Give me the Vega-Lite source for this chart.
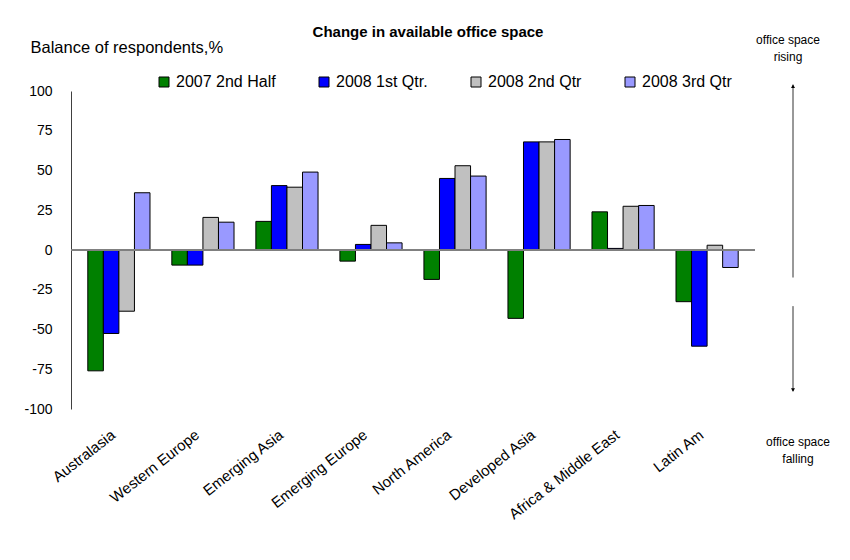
{
  "$schema": "https://vega.github.io/schema/vega-lite/v6.json",
  "width": 684,
  "height": 318,
  "autosize": {"type": "none"},
  "padding": {"left": 71, "top": 91, "right": 95, "bottom": 151},
  "background": "white",
  "title": {"text": "Change in available office space", "fontSize": 15, "fontWeight": "bold", "font": "Liberation Sans", "color": "black", "anchor": "middle", "dx": 15, "offset": -6},
  "config": {"view": {"stroke": null}, "font": "Liberation Sans", "axisY": {"labelOverlap": false}},
  "resolve": {"axis": {"y": "independent"}},
  "datasets": {
    "bars": [
      {"region": "Australasia", "series": "2007 2nd Half", "value": -76},
      {"region": "Australasia", "series": "2008 1st Qtr.", "value": -52.5},
      {"region": "Australasia", "series": "2008 2nd Qtr", "value": -38.5},
      {"region": "Australasia", "series": "2008 3rd Qtr", "value": 36},
      {"region": "Western Europe", "series": "2007 2nd Half", "value": -9.5},
      {"region": "Western Europe", "series": "2008 1st Qtr.", "value": -9.5},
      {"region": "Western Europe", "series": "2008 2nd Qtr", "value": 20.5},
      {"region": "Western Europe", "series": "2008 3rd Qtr", "value": 17.5},
      {"region": "Emerging Asia", "series": "2007 2nd Half", "value": 18},
      {"region": "Emerging Asia", "series": "2008 1st Qtr.", "value": 40.5},
      {"region": "Emerging Asia", "series": "2008 2nd Qtr", "value": 39.5},
      {"region": "Emerging Asia", "series": "2008 3rd Qtr", "value": 49},
      {"region": "Emerging Europe", "series": "2007 2nd Half", "value": -7},
      {"region": "Emerging Europe", "series": "2008 1st Qtr.", "value": 3.5},
      {"region": "Emerging Europe", "series": "2008 2nd Qtr", "value": 15.5},
      {"region": "Emerging Europe", "series": "2008 3rd Qtr", "value": 4.5},
      {"region": "North America", "series": "2007 2nd Half", "value": -18.5},
      {"region": "North America", "series": "2008 1st Qtr.", "value": 45},
      {"region": "North America", "series": "2008 2nd Qtr", "value": 53},
      {"region": "North America", "series": "2008 3rd Qtr", "value": 46.5},
      {"region": "Developed Asia", "series": "2007 2nd Half", "value": -43},
      {"region": "Developed Asia", "series": "2008 1st Qtr.", "value": 68},
      {"region": "Developed Asia", "series": "2008 2nd Qtr", "value": 68},
      {"region": "Developed Asia", "series": "2008 3rd Qtr", "value": 69.5},
      {"region": "Africa & Middle East", "series": "2007 2nd Half", "value": 24},
      {"region": "Africa & Middle East", "series": "2008 1st Qtr.", "value": 1},
      {"region": "Africa & Middle East", "series": "2008 2nd Qtr", "value": 27.5},
      {"region": "Africa & Middle East", "series": "2008 3rd Qtr", "value": 28},
      {"region": "Latin Am", "series": "2007 2nd Half", "value": -32.5},
      {"region": "Latin Am", "series": "2008 1st Qtr.", "value": -60.5},
      {"region": "Latin Am", "series": "2008 2nd Qtr", "value": 3},
      {"region": "Latin Am", "series": "2008 3rd Qtr", "value": -11}
    ],
    "notes": [
      {"side": "rising", "label": ["office space", "rising"], "textAt": 132, "from": 104, "to": -17.3, "tip": 103, "shape": "triangle-up"},
      {"side": "falling", "label": ["office space", "falling"], "textAt": -121, "from": -35.3, "to": -88.8, "tip": -88, "shape": "triangle-down"}
    ]
  },
  "layer": [
    {
      "data": {"name": "bars"},
      "mark": {"type": "bar", "stroke": "black", "strokeWidth": 1},
      "encoding": {
        "x": {
          "field": "region", "type": "nominal",
          "sort": ["Australasia", "Western Europe", "Emerging Asia", "Emerging Europe", "North America", "Developed Asia", "Africa & Middle East", "Latin Am"],
          "scale": {"paddingInner": 0.26},
          "axis": {"title": null, "labelAngle": -38, "labelAlign": "right", "labelBaseline": "top", "domain": false, "ticks": false, "labelPadding": 18, "labelOffset": -10, "labelFontSize": 15, "labelColor": "black", "labelFont": "Liberation Sans", "labelLimit": 300}
        },
        "xOffset": {"field": "series", "type": "nominal", "sort": ["2007 2nd Half", "2008 1st Qtr.", "2008 2nd Qtr", "2008 3rd Qtr"]},
        "y": {
          "field": "value", "type": "quantitative",
          "scale": {"domain": [-100, 100], "nice": false},
          "axis": {"values": [-100, -75, -50, -25, 0, 25, 50, 75, 100], "labelExpr": "'' + datum.value", "labelOverlap": false, "grid": false, "ticks": false, "labelPadding": 19, "domainColor": "#404040", "labelFontSize": 14, "labelColor": "black", "labelFont": "Liberation Sans",
                   "title": "Balance of respondents,%", "titleAngle": 0, "titleX": -41, "titleY": -44, "titleAlign": "left", "titleBaseline": "middle", "titleFontWeight": "normal", "titleFontSize": 16.5, "titleColor": "black", "titleFont": "Liberation Sans"}
        },
        "color": {
          "field": "series", "type": "nominal",
          "scale": {"domain": ["2007 2nd Half", "2008 1st Qtr.", "2008 2nd Qtr", "2008 3rd Qtr"], "range": ["#008000", "#0000ff", "#c0c0c0", "#9999ff"]},
          "legend": {"title": null, "orient": "none", "legendX": 85, "legendY": -17, "direction": "horizontal", "symbolType": "square", "symbolSize": 100, "symbolStrokeColor": "black", "symbolStrokeWidth": 1, "labelFontSize": 16, "labelColor": "black", "labelFont": "Liberation Sans", "columnPadding": 40, "labelOffset": 4}
        }
      }
    },
    {
      "data": {"name": "bars"},
      "mark": {"type": "rule", "color": "#808080", "strokeWidth": 1},
      "encoding": {"y": {"datum": 0, "type": "quantitative", "axis": null}}
    },
    {
      "data": {"name": "notes"},
      "mark": {"type": "rule", "color": "#333333", "strokeWidth": 1, "xOffset": 38},
      "encoding": {
        "x": {"value": "width"},
        "y": {"field": "from", "type": "quantitative", "axis": null},
        "y2": {"field": "to"}
      }
    },
    {
      "data": {"name": "notes"},
      "mark": {"type": "point", "filled": true, "color": "black", "size": 16, "opacity": 1, "xOffset": 38},
      "encoding": {
        "x": {"value": "width"},
        "y": {"field": "tip", "type": "quantitative", "axis": null},
        "shape": {"field": "shape", "type": "nominal", "scale": {"domain": ["triangle-up", "triangle-down"], "range": ["triangle-up", "triangle-down"]}, "legend": null}
      }
    },
    {
      "data": {"name": "notes"},
      "transform": [{"filter": "datum.side === 'rising'"}],
      "mark": {"type": "text", "fontSize": 12, "font": "Liberation Sans", "color": "black", "align": "center", "baseline": "middle", "lineHeight": 17, "dx": 33},
      "encoding": {
        "x": {"value": "width"},
        "y": {"field": "textAt", "type": "quantitative", "axis": null},
        "text": {"field": "label"}
      }
    },
    {
      "data": {"name": "notes"},
      "transform": [{"filter": "datum.side === 'falling'"}],
      "mark": {"type": "text", "fontSize": 12, "font": "Liberation Sans", "color": "black", "align": "center", "baseline": "middle", "lineHeight": 17, "dx": 43},
      "encoding": {
        "x": {"value": "width"},
        "y": {"field": "textAt", "type": "quantitative", "axis": null},
        "text": {"field": "label"}
      }
    }
  ]
}
